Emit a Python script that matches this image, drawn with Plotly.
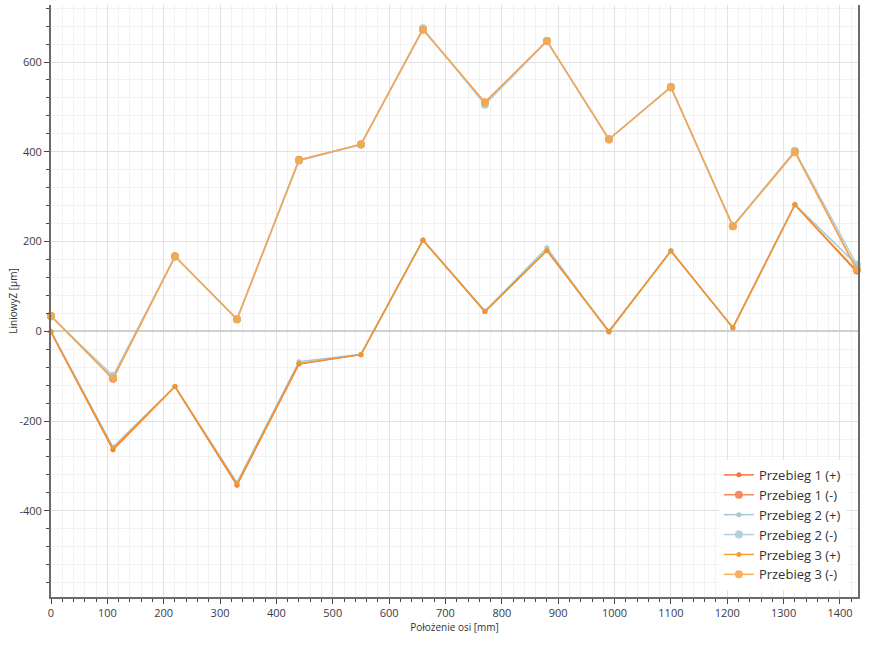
import plotly.graph_objects as go

# axis positions [mm]
pos = [0, 110, 220, 330, 440, 550, 660, 770, 880, 990, 1100, 1210, 1320, 1430]

# deviations [µm]
p1_plus = [-2, -264, -123, -343, -73, -52, 203, 44, 180, 0, 179, 8, 282, 132]
p1_minus = [34, -106, 167, 27, 382, 416, 673, 510, 647, 428, 544, 234, 400, 136]
p2_plus = [0, -258, -123, -337, -68, -51, 204, 45, 186, -2, 180, 7, 283, 148]
p2_minus = [33, -99, 166, 27, 380, 416, 675, 505, 646, 427, 545, 235, 402, 148]
p3_plus = [-1, -262, -123, -341, -72, -52, 203, 44, 180, -1, 179, 8, 282, 135]
p3_minus = [34, -105, 167, 27, 381, 417, 672, 510, 647, 428, 544, 234, 399, 138]

# y tick labels use a plain hyphen like the original
y_ticks = [-400, -200, 0, 200, 400, 600]
y_labels = ["-400", "-200", "0", "200", "400", "600"]

series = [
    ("Przebieg 1 (+)", p1_plus, "#F26430", 5),
    ("Przebieg 1 (-)", p1_minus, "#F47E4E", 8),
    ("Przebieg 2 (+)", p2_plus, "#9DC3D6", 5),
    ("Przebieg 2 (-)", p2_minus, "#A9CBDC", 8),
    ("Przebieg 3 (+)", p3_plus, "#F7941D", 5),
    ("Przebieg 3 (-)", p3_minus, "#F8A84A", 8),
]

fig = go.Figure()
for name, vals, col, size in series:
    fig.add_trace(go.Scatter(
        x=pos, y=vals, name=name, mode="lines+markers",
        line=dict(color=col, width=1.5),
        marker=dict(color=col, size=size),
        opacity=0.9,
        cliponaxis=False,
    ))

axis_common = dict(
    showline=True, linecolor="#6b6b6b", linewidth=2,
    ticks="outside", ticklen=5, tickcolor="#444", tickwidth=1,
    showgrid=True, gridcolor="#e2e2e2", gridwidth=1,
    tickfont=dict(size=11, color="#3a3a48"),
    zeroline=False, automargin=False,
)

fig.update_xaxes(
    range=[0, 1432], dtick=100, tick0=0,
    minor=dict(dtick=20, ticks="outside", ticklen=3, tickcolor="#444",
               showgrid=True, gridcolor="#f2f2f2"),
    title=dict(text="Położenie osi [mm]", font=dict(size=10, color="#333"), standoff=2),
    **axis_common,
)
fig.update_yaxes(
    range=[-592, 727], tickmode="array", tickvals=y_ticks, ticktext=y_labels,
    minor=dict(dtick=40, tick0=0, ticks="outside", ticklen=3, tickcolor="#444",
               showgrid=True, gridcolor="#f2f2f2"),
    title=dict(text="LiniowyZ [µm]", font=dict(size=10, color="#333"), standoff=0),
    mirror=True,
    **axis_common,
)
fig.update_yaxes(zeroline=True, zerolinecolor="#cfcfcf", zerolinewidth=2)

fig.update_layout(
    width=870, height=645,
    margin=dict(l=51, r=12, t=5, b=48, autoexpand=False),
    paper_bgcolor="white", plot_bgcolor="white",
    font=dict(family="Open Sans, Noto Sans, sans-serif", color="#333"),
    legend=dict(
        x=0.985, y=0.012, xanchor="right", yanchor="bottom",
        bgcolor="white", font=dict(size=13, color="#333"),
        itemwidth=30, tracegroupgap=0,
    ),
)

# page body has an 8px default margin; drop it so the chart sits at the corner
fig.write_html("out.html", config={"displayModeBar": False},
               post_script="document.body.style.margin = '0';")
